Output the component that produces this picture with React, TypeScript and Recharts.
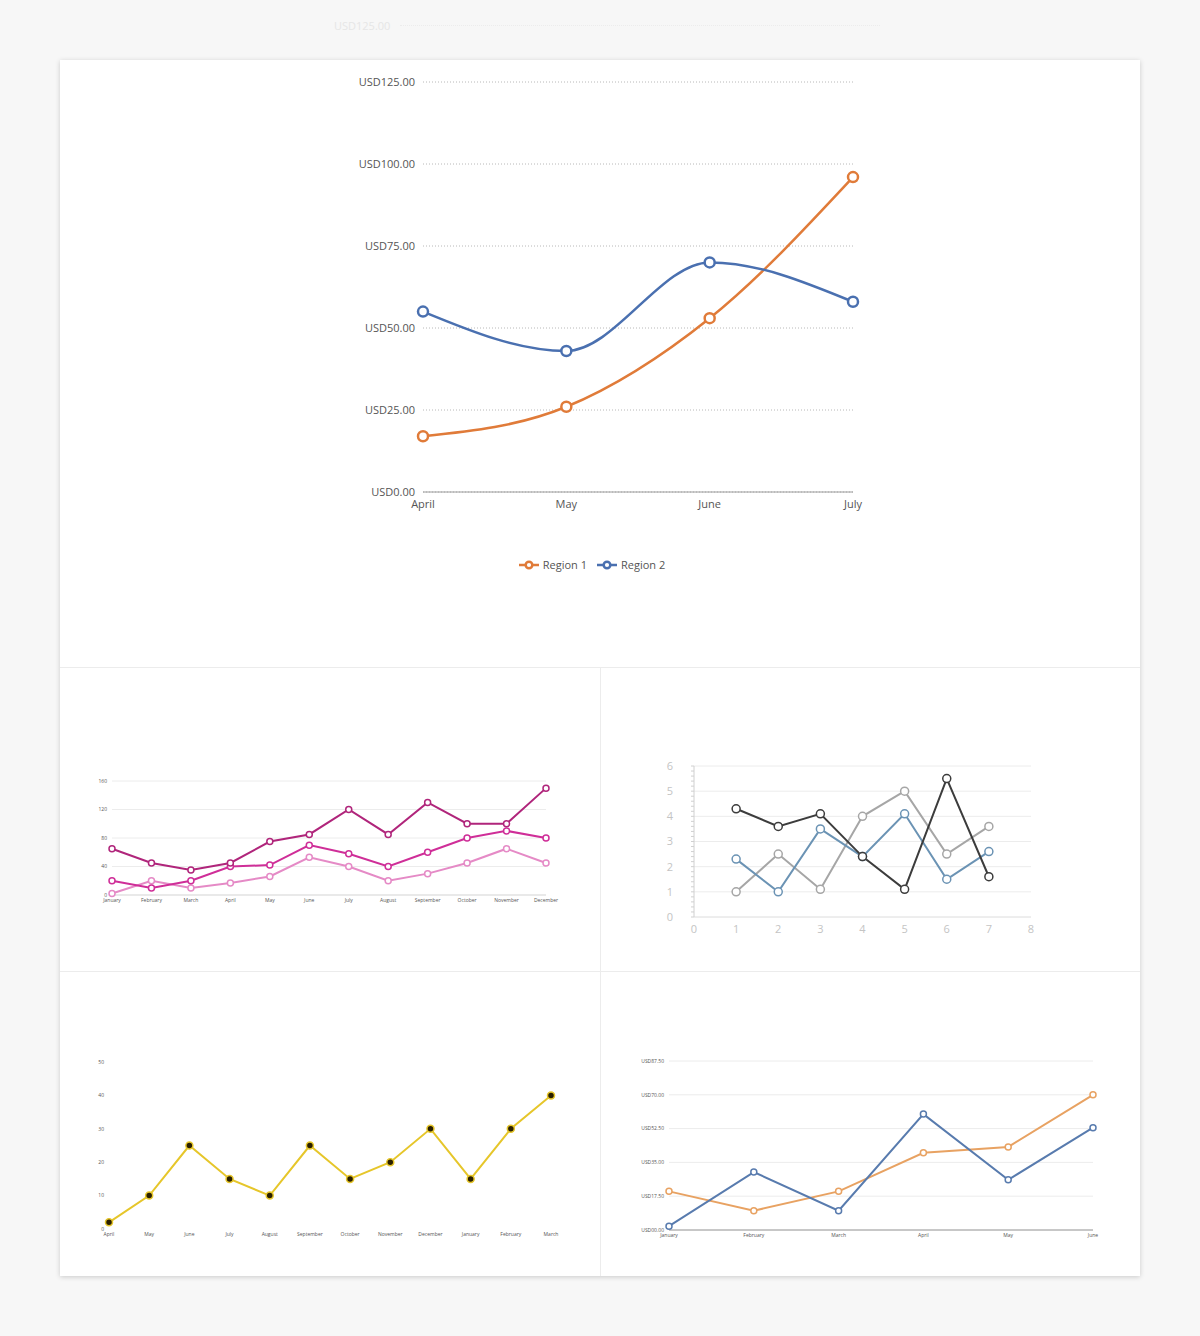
import React from "react";
import {
  LineChart,
  Line,
  XAxis,
  YAxis,
  CartesianGrid,
  Legend,
} from "recharts";

// main chart
const quarterMonths = ["April", "May", "June", "July"];
const region1 = [17, 26, 53, 96];
const region2 = [55, 43, 70, 58];
const usdTicks = [0, 25, 50, 75, 100, 125];

// pink chart
const calMonths = ["January", "February", "March", "April", "May", "June", "July", "August", "September", "October", "November", "December"];
const pinkDark = [65, 45, 35, 45, 75, 85, 120, 85, 130, 100, 100, 150];
const pinkMid = [20, 10, 20, 40, 42, 70, 58, 40, 60, 80, 90, 80];
const pinkLight = [2, 20, 10, 17, 26, 53, 40, 20, 30, 45, 65, 45];
const pinkTicks = [0, 40, 80, 120, 160];

// numeric chart
const xPoints = [1, 2, 3, 4, 5, 6, 7];
const blackSeries = [4.3, 3.6, 4.1, 2.4, 1.1, 5.5, 1.6];
const graySeries = [1.0, 2.5, 1.1, 4.0, 5.0, 2.5, 3.6];
const steelSeries = [2.3, 1.0, 3.5, 2.4, 4.1, 1.5, 2.6];
const numXTicks = [0, 1, 2, 3, 4, 5, 6, 7, 8];

// yellow chart
const fiscalMonths = ["April", "May", "June", "July", "August", "September", "October", "November", "December", "January", "February", "March"];
const yellowValues = [2, 10, 25, 15, 10, 25, 15, 20, 30, 15, 30, 40];
const yellowTicks = [0, 10, 20, 30, 40, 50];

// small usd chart
const halfMonths = ["January", "February", "March", "April", "May", "June"];
const smallOrange = [20, 10, 20, 40, 43, 70];
const smallBlue = [2, 30, 10, 60, 26, 53];
const smallUsdTicks = [0, 17.5, 35, 52.5, 70, 87.5];

const mainData = quarterMonths.map((m, i) => ({ month: m, r1: region1[i], r2: region2[i] }));
const pinkData = calMonths.map((m, i) => ({ month: m, a: pinkDark[i], b: pinkMid[i], c: pinkLight[i] }));
const numData = xPoints.map((x, i) => ({ x, k: blackSeries[i], g: graySeries[i], s: steelSeries[i] }));
const yellowData = fiscalMonths.map((m, i) => ({ month: m, v: yellowValues[i] }));
const smallData = halfMonths.map((m, i) => ({ month: m, o: smallOrange[i], b: smallBlue[i] }));

// minor tick marks on the numeric chart's y axis
const minorTicks = Array.from({ length: 31 }, (_, i) => i / 5);

const usd = (v: number) => "USD" + v.toFixed(2);
const usdPad = (v: number) => "USD" + (v < 10 ? "0" : "") + v.toFixed(2);

const font = "'Open Sans', 'DejaVu Sans', sans-serif";

function Abs({ left, top, children }: { left: number; top: number; children: React.ReactNode }) {
  return <div style={{ position: "absolute", left, top }}>{children}</div>;
}

export default function App() {
  return (
    <div style={{ position: "absolute", left: 0, top: 0, width: 1200, height: 1336, background: "#f7f7f7", fontFamily: font, overflow: "hidden" }}>
      {/* faint reflection above the card */}
      <div style={{ position: "absolute", left: 334, top: 18, fontSize: 11, color: "#e6e6e6" }}>USD125.00</div>
      <div style={{ position: "absolute", left: 400, top: 25, width: 480, borderTop: "1px dotted #ececec" }} />

      <div style={{ position: "absolute", left: 60, top: 60, width: 1080, height: 1216, background: "#fff", boxShadow: "0 1px 5px rgba(0,0,0,0.18)" }}>
        <div style={{ position: "absolute", left: 0, top: 607, width: 1080, borderTop: "1px solid #ececec" }} />
        <div style={{ position: "absolute", left: 0, top: 911, width: 1080, borderTop: "1px solid #ececec" }} />
        <div style={{ position: "absolute", left: 540, top: 607, height: 609, borderLeft: "1px solid #ececec" }} />
      </div>

      {/* main chart */}
      <Abs left={287} top={60}>
        <LineChart width={620} height={540} data={mainData} margin={{ top: 22, right: 54, left: 0, bottom: 78 }}>
          <CartesianGrid vertical={false} stroke="#b8b8b8" strokeDasharray="1 2" />
          <XAxis
            dataKey="month"
            stroke="#9a9a9a"
            tickLine={false}
            tick={{ fill: "#555", fontSize: 11 }}
            tickMargin={2}
            height={30}
          />
          <YAxis
            width={136}
            domain={[0, 125]}
            ticks={usdTicks}
            tickFormatter={usd}
            axisLine={false}
            tickLine={false}
            tick={{ fill: "#555", fontSize: 11 }}
          />
          <Legend
            verticalAlign="middle"
            iconSize={20}
            wrapperStyle={{ top: 492, left: 27 }}
            formatter={(v) => <span style={{ color: "#555", fontSize: 11 }}>{v}</span>}
          />
          <Line name="Region 1" type="monotone" dataKey="r1" stroke="#E07B39" strokeWidth={2.5} dot={{ r: 5, strokeWidth: 2.5, fill: "#fff" }} legendType="line" isAnimationActive={false} />
          <Line name="Region 2" type="monotone" dataKey="r2" stroke="#4A70B0" strokeWidth={2.5} dot={{ r: 5, strokeWidth: 2.5, fill: "#fff" }} legendType="line" isAnimationActive={false} />
        </LineChart>
      </Abs>

      {/* pink chart */}
      <Abs left={70} top={770}>
        <LineChart width={500} height={150} data={pinkData} margin={{ top: 11, right: 24, left: 0, bottom: 5 }}>
          <CartesianGrid vertical={false} stroke="#ececec" />
          <XAxis dataKey="month" stroke="#dddddd" tickLine={false} tick={{ fill: "#555", fontSize: 5 }} tickSize={3} tickMargin={0} height={20} />
          <YAxis width={42} domain={[0, 160]} ticks={pinkTicks} axisLine={false} tickLine={false} tickSize={3} tick={{ fill: "#555", fontSize: 5 }} />
          <Line type="linear" dataKey="c" stroke="#E58AC6" strokeWidth={2} dot={{ r: 3, strokeWidth: 1.5, fill: "#fff" }} isAnimationActive={false} />
          <Line type="linear" dataKey="b" stroke="#CF2E98" strokeWidth={2} dot={{ r: 3, strokeWidth: 1.5, fill: "#fff" }} isAnimationActive={false} />
          <Line type="linear" dataKey="a" stroke="#B0257B" strokeWidth={2} dot={{ r: 3, strokeWidth: 1.5, fill: "#fff" }} isAnimationActive={false} />
        </LineChart>
      </Abs>

      {/* numeric chart */}
      <Abs left={630} top={755}>
        <LineChart width={420} height={190} data={numData} margin={{ top: 11, right: 19, left: 0, bottom: 4 }}>
          <CartesianGrid vertical={false} horizontalValues={[1, 2, 3, 4, 5, 6]} stroke="#ececec" />
          <XAxis
            type="number"
            dataKey="x"
            domain={[0, 8]}
            ticks={numXTicks}
            stroke="#dcdcdc"
            tickLine={false}
            tickSize={0}
            tickMargin={8}
            tick={{ fill: "#c4c4c4", fontSize: 11 }}
            height={24}
          />
          <YAxis
            width={64}
            domain={[0, 6]}
            ticks={minorTicks}
            interval={0}
            tickFormatter={(v: number) => (Number.isInteger(v) ? String(v) : "")}
            stroke="#d0d0d0"
            tickSize={3}
            tickMargin={18}
            tick={{ fill: "#c4c4c4", fontSize: 11 }}
          />
          <Line type="linear" dataKey="g" stroke="#a6a6a6" strokeWidth={2} dot={{ r: 4, strokeWidth: 1.5, fill: "#fff" }} isAnimationActive={false} />
          <Line type="linear" dataKey="s" stroke="#6B93B4" strokeWidth={2} dot={{ r: 4, strokeWidth: 1.5, fill: "#fff" }} isAnimationActive={false} />
          <Line type="linear" dataKey="k" stroke="#3c3c3c" strokeWidth={2} dot={{ r: 4, strokeWidth: 1.5, fill: "#fff" }} isAnimationActive={false} />
        </LineChart>
      </Abs>

      {/* yellow chart */}
      <Abs left={60} top={1050}>
        <LineChart width={510} height={200} data={yellowData} margin={{ top: 12, right: 19, left: 0, bottom: 5 }}>
          <XAxis dataKey="month" axisLine={false} tickLine={false} tick={{ fill: "#555", fontSize: 5 }} tickSize={3} tickMargin={0} height={16} />
          <YAxis width={49} domain={[0, 50]} ticks={yellowTicks} axisLine={false} tickLine={false} tickSize={3} tick={{ fill: "#555", fontSize: 5 }} />
          <Line type="linear" dataKey="v" stroke="#E6C62A" strokeWidth={2} dot={{ r: 3.5, strokeWidth: 1.5, fill: "#2a1f00" }} isAnimationActive={false} />
        </LineChart>
      </Abs>

      {/* small usd chart */}
      <Abs left={600} top={1050}>
        <LineChart width={520} height={200} data={smallData} margin={{ top: 11, right: 27, left: 0, bottom: 5 }}>
          <CartesianGrid vertical={false} stroke="#ececec" />
          <XAxis dataKey="month" stroke="#9a9a9a" tickLine={false} tick={{ fill: "#555", fontSize: 5 }} tickSize={3} tickMargin={0} height={15} />
          <YAxis width={69} domain={[0, 87.5]} ticks={smallUsdTicks} tickFormatter={usdPad} axisLine={false} tickLine={false} tickSize={3} tick={{ fill: "#555", fontSize: 5 }} />
          <Line type="linear" dataKey="o" stroke="#E8A262" strokeWidth={2} dot={{ r: 3, strokeWidth: 1.5, fill: "#fff" }} isAnimationActive={false} />
          <Line type="linear" dataKey="b" stroke="#587BAE" strokeWidth={2} dot={{ r: 3, strokeWidth: 1.5, fill: "#fff" }} isAnimationActive={false} />
        </LineChart>
      </Abs>
    </div>
  );
}
